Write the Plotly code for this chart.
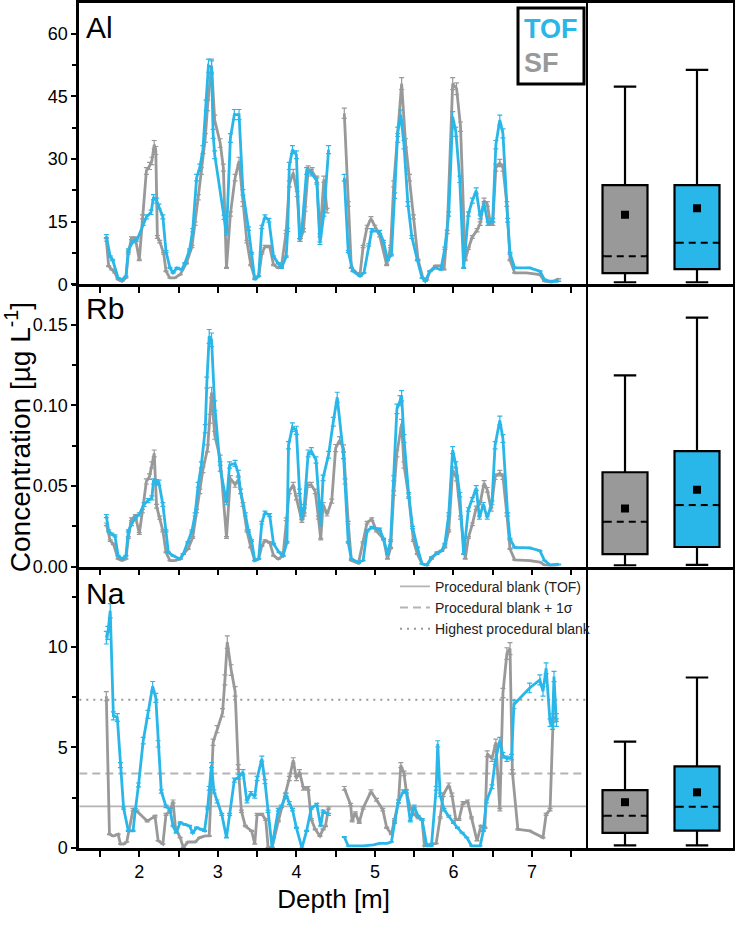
import plotly.graph_objects as go

# ---------------- data ----------------
al_sf_depth = [1.58,1.61,1.65,1.69,1.73,1.78,1.83,1.86,1.90,1.95,2.00,2.04,2.09,2.13,2.16,2.19,2.21,2.23,2.26,2.31,2.34,2.39,2.45,2.52,2.60,2.67,2.71,2.75,2.79,2.84,2.87,2.92,2.96,3.03,3.07,3.11,3.16,3.22,3.27,3.32,3.37,3.42,3.47,3.52,3.56,3.60,3.66,3.71,3.77,3.81,3.87,3.91,3.96,4.01,4.05,4.09,4.11,4.15,4.20,4.26,4.30,4.35,4.39,4.50,4.61,4.66,4.70,4.77,4.81,4.85,4.90,4.95,5.00,5.06,5.15,5.20,5.24,5.29,5.34,5.39,5.44,5.49,5.55,5.61,5.66,5.70,5.77,5.83,5.88,5.92,5.99,6.04,6.09,6.15,6.19,6.24,6.30,6.34,6.39,6.43,6.47,6.50,6.54,6.59,6.63,6.68,6.72,6.78,6.93,7.10,7.16,7.25,7.34]
al_sf = [10.6,4.3,3.5,2.7,1.1,0.7,1.5,7.4,11,11,5.8,16.1,27.1,28.3,29.5,33.4,32,11.3,10.2,7.4,3.1,1.5,1.5,2.3,5.0,9.0,14.5,20.8,27.1,35,42.8,52.3,39.3,33.8,27.9,3.9,16.8,25.5,29.5,19.2,10.2,4.6,1.5,1.9,7.4,9.0,9.0,4.6,3.9,4.3,12.5,24,26.7,21.6,10.6,12.9,18.0,27.5,27.1,25.1,11.7,25.1,17.6,None,40.9,19.2,3.9,2.7,2.3,9.0,13.7,15.7,13.7,11.7,4.6,9.0,24,35,48,33.8,25.5,16.1,5.8,1.5,1.0,3.1,4.4,4.4,3.5,12.5,48,46.8,37.7,5.8,8.6,11.3,12.9,14.5,20,19.2,14.5,14.5,27.9,29,27.9,19.2,5.8,2.7,2.7,2.3,0.7,0.5,1.3]

al_tof_depth = [1.58,1.63,1.66,1.73,1.78,1.83,1.86,1.92,1.97,2.05,2.09,2.15,2.18,2.22,2.25,2.30,2.34,2.39,2.43,2.48,2.54,2.58,2.64,2.68,2.73,2.77,2.81,2.85,2.88,2.92,2.94,2.96,3.08,3.11,3.16,3.21,3.27,3.32,3.39,3.43,3.47,3.52,3.56,3.60,3.65,3.71,3.77,3.81,3.87,3.89,3.91,3.95,4.00,4.04,4.07,4.13,4.19,4.26,4.30,4.35,4.41,4.50,4.61,4.66,4.72,4.81,4.86,4.92,4.96,5.06,5.11,5.16,5.21,5.25,5.29,5.33,5.37,5.42,5.47,5.54,5.60,5.64,5.70,5.77,5.84,5.89,5.94,5.99,6.03,6.08,6.13,6.19,6.24,6.29,6.34,6.39,6.44,6.50,6.54,6.59,6.63,6.69,6.72,6.78,6.97,7.10,7.16,7.23,7.34]
al_tof = [11.5,6.6,5.8,1.5,1.1,1.9,8.2,10.2,10.6,14.5,16.1,17.2,20.8,20.0,18.6,16.1,7.8,3.9,2.7,3.9,3.5,5.0,8.2,12.9,25.5,27.9,32.2,42.8,52.3,51.9,36,31,16,12.1,35,40.6,40.6,22,13.3,7.4,1.1,1.9,13.7,16.1,15.3,6.6,5.0,3.9,6.6,13,28.3,32.2,31,10.6,12.9,27.1,26.7,24.7,9.8,16.8,32.2,None,25.5,7.8,3.1,1.9,2.7,9.4,12.9,12.5,10.2,5.8,7.0,21.2,36.5,40.5,33.4,19.2,11.3,5.8,1.5,0.7,3.1,3.9,3.5,8.6,16.8,40.1,36.5,25.1,3.9,16.8,20,22.4,16.1,19.2,14.5,15.3,33.4,39.3,36.1,15.3,7.4,3.9,3.9,3.1,1.1,0.7,0.7]

rb_sf_depth = [1.58,1.63,1.67,1.73,1.78,1.83,1.86,1.90,1.95,2.00,2.04,2.09,2.13,2.16,2.19,2.22,2.26,2.30,2.34,2.39,2.45,2.52,2.56,2.62,2.68,2.73,2.77,2.81,2.87,2.90,2.92,2.96,3.03,3.11,3.16,3.22,3.26,3.32,3.37,3.42,3.47,3.52,3.56,3.60,3.66,3.71,3.77,3.83,3.87,3.91,3.96,4.00,4.07,4.10,4.14,4.19,4.24,4.28,4.31,4.34,4.39,4.45,4.50,4.55,4.60,4.66,4.70,4.79,4.85,4.90,4.96,5.02,5.11,5.16,5.20,5.24,5.28,5.34,5.37,5.43,5.49,5.54,5.60,5.66,5.72,5.79,5.85,5.89,5.94,5.99,6.04,6.09,6.15,6.19,6.24,6.29,6.34,6.39,6.43,6.48,6.53,6.59,6.63,6.68,6.72,6.78,6.97,7.10,7.16,7.25,7.34]
rb_sf = [.0262,.016,.014,.0047,.0037,.0047,.018,.0293,.0313,.0205,.0344,.0528,.0558,.063,.0702,.0374,.0303,.0221,.0088,.0037,.0037,.0047,.0078,.0109,.018,.0344,.0466,.06,.0733,.0917,.108,.0814,.0671,.018,.0548,.0507,.0538,.0385,.0221,.0119,.0037,.0047,.0129,.016,.015,.0067,.0047,.0067,.0293,.0466,.0507,.0426,.0282,.0323,.0507,.0507,.0466,.0303,.017,.0385,.0323,.0406,.0735,.0783,.0733,.0272,.0037,.002,.015,.0272,.0293,.0221,.017,.0047,.0115,.0456,.0702,.0886,.063,.0436,.016,.0078,.0017,.001,.0047,.0088,.0098,.0119,.0221,.06,.0548,.0303,.0047,.018,.0262,.0364,.0395,.0518,.0476,.0354,.0558,.0579,.0558,.0323,.0109,.0041,.0037,.0027,.001,.0005,.001]

rb_tof_depth = [1.58,1.61,1.65,1.69,1.73,1.78,1.83,1.86,1.90,1.95,2.00,2.06,2.11,2.16,2.18,2.22,2.25,2.30,2.34,2.37,2.43,2.52,2.56,2.62,2.67,2.71,2.75,2.79,2.84,2.86,2.89,2.92,2.96,3.03,3.11,3.15,3.22,3.26,3.29,3.35,3.39,3.43,3.47,3.52,3.56,3.60,3.66,3.71,3.78,3.83,3.88,3.90,3.95,4.00,4.04,4.07,4.10,4.15,4.19,4.25,4.31,4.34,4.41,4.47,4.52,4.60,4.62,4.66,4.70,4.79,4.85,4.90,4.96,5.06,5.11,5.16,5.20,5.24,5.28,5.32,5.34,5.37,5.43,5.48,5.54,5.60,5.66,5.72,5.79,5.85,5.89,5.94,5.99,6.03,6.08,6.13,6.19,6.24,6.29,6.33,6.38,6.43,6.49,6.53,6.59,6.63,6.69,6.72,6.78,6.97,7.10,7.16,7.23,7.34]
rb_tof = [.0313,.0221,.0201,.019,.0067,.0047,.0067,.0221,.0262,.0303,.0323,.0385,.0409,.0426,.0528,.0524,.052,.0385,.0221,.0088,.0067,.0047,.0078,.015,.0221,.0323,.0507,.063,.0855,.1141,.1428,.1407,.0998,.061,.0395,.063,.064,.0579,.0466,.0323,.0221,.016,.0037,.0047,.0272,.0334,.0319,.0139,.0088,.0067,.015,.0753,.0865,.0845,.0466,.0303,.0374,.0702,.0716,.0661,.0262,.055,.0694,.0898,.105,.069,.0528,.015,.0047,.0027,.0037,.0221,.0242,.0231,.017,.0078,.016,.0548,.0978,.1029,.106,.0794,.0446,.0242,.0119,.0017,.0006,.0058,.0078,.0098,.0139,.0323,.0722,.063,.0446,.0078,.0354,.0415,.0487,.0303,.0385,.0303,.0395,.0753,.0906,.0794,.0323,.017,.0119,.0115,.0098,.0037,.001,.0015]

na_sf_depth = [1.58,1.62,1.67,1.73,1.76,1.80,1.84,1.92,1.97,2.10,2.20,2.24,2.30,2.34,2.39,2.43,2.46,2.52,2.56,2.62,2.71,2.77,2.84,2.89,2.94,2.99,3.06,3.09,3.12,3.17,3.22,3.26,3.30,3.35,3.43,3.47,3.50,3.56,3.61,3.64,3.69,3.77,3.86,3.91,3.96,4.00,4.04,4.09,4.15,4.19,4.24,4.30,4.34,4.37,4.41,4.50,4.61,4.69,4.71,4.75,4.80,4.85,4.95,5.02,5.10,5.15,5.21,5.25,5.30,5.33,5.37,5.40,5.45,5.50,5.55,5.60,5.63,5.70,5.78,5.83,5.87,5.94,5.98,6.03,6.07,6.12,6.18,6.23,6.30,6.35,6.40,6.43,6.49,6.54,6.59,6.63,6.68,6.72,6.75,6.82,6.97,7.14,7.18,7.23,7.27,7.31]
na_sf = [7.55,0.69,0.6,0.69,0.2,0.2,0.3,1.91,1.83,1.34,1.58,0.36,0.2,1.67,1.83,2.32,1.01,0.52,0.03,0.3,0.3,0.52,0.6,0.6,5.26,5.91,6.73,8.36,10.24,8.85,7.79,4.03,1.83,1.09,0.85,0.2,1.67,1.67,1.42,0.03,0.03,1.34,2.65,3.46,4.36,3.46,3.79,2.97,2.97,1.42,0.93,0.6,0.93,1.1,1.99,None,2.97,2.16,1.34,1.75,1.26,1.99,2.81,2.40,1.91,1.01,0.69,1.42,2.32,4.12,3.71,2.81,1.99,1.67,1.5,1.42,0.11,0.2,0.23,1.5,2.65,3.14,2.65,1.42,1.42,2.24,2.32,1.5,0.36,1.09,1.01,4.69,4.44,5.26,1.91,7.71,9.67,9.92,3.79,0.93,0.85,0.52,1.67,1.91,6.49,6.49]

na_tof_depth = [1.58,1.60,1.63,1.67,1.72,1.76,1.80,1.86,1.92,1.95,1.99,2.05,2.11,2.17,2.21,2.24,2.28,2.34,2.39,2.43,2.47,2.52,2.58,2.64,2.68,2.73,2.79,2.83,2.87,2.89,2.92,2.95,2.99,3.05,3.11,3.15,3.21,3.27,3.32,3.37,3.42,3.47,3.50,3.56,3.60,3.64,3.69,3.71,3.77,3.81,3.87,3.91,3.95,4.00,4.07,4.13,4.19,4.26,4.31,4.34,4.41,4.50,4.61,4.66,4.75,4.85,4.98,5.06,5.15,5.21,5.25,5.30,5.36,5.40,5.45,5.50,5.55,5.60,5.66,5.72,5.78,5.80,5.83,5.88,5.94,6.00,6.05,6.11,6.17,6.23,6.34,6.38,6.42,6.49,6.53,6.59,6.63,6.68,6.74,6.77,6.97,7.10,7.14,7.18,7.23,7.26,7.28,7.31]
na_tof = [10.46,10.7,11.8,6.57,6.49,4.12,1.99,0.85,0.85,1.91,3.14,5.34,6.65,8.04,7.47,5.18,2.81,2.07,1.91,1.09,0.76,1.26,1.17,1.09,0.76,1.01,0.93,0.85,1.99,2.97,4.12,2.81,2.32,1.67,0.52,1.67,3.38,3.54,3.79,2.32,2.73,2.56,3.46,4.44,3.30,1.83,0.03,0.52,1.91,2.07,2.65,2.24,1.91,1.01,0.0,0.85,1.99,2.16,1.09,1.83,1.67,None,0.55,0.11,0.11,0.11,0.16,0.23,0.23,0.3,1.26,2.32,2.81,2.81,1.34,2.07,1.58,1.42,0.11,0.11,2.97,5.18,2.65,1.91,1.58,1.26,1.01,0.76,0.52,0.11,0.11,0.85,2.32,3.05,4.28,5.34,4.61,4.44,4.52,7.14,7.96,8.36,7.79,8.94,6.24,6.08,8.53,6.24]

# procedural blanks for Na
na_blank_names = ["Procedural blank (TOF)", "Procedural blank + 1σ", "Highest procedural blank"]
na_blank_values = [2.07, 3.71, 7.38]

# box statistics: [SF, TOF]
box_names = ["SF", "TOF"]
al_box = dict(q1=[2.67, 3.6], median=[6.7, 9.9], q3=[23.7, 23.7], lo=[0.47, 0.47], hi=[47.3, 51.3], mean=[16.6, 18.2])
rb_box = dict(q1=[0.0077, 0.0121], median=[0.0277, 0.0381], q3=[0.0585, 0.0716], lo=[0.0007, 0.001], hi=[0.1186, 0.1544], mean=[0.036, 0.0476])
na_box = dict(q1=[0.75, 0.87], median=[1.6, 2.05], q3=[2.88, 4.06], lo=[0.13, 0.13], hi=[5.29, 8.48], mean=[2.28, 2.77])

panel_labels = ["Al", "Rb", "Na"]
y_ranges = [[0, 67.25], [0, 0.1752], [0, 14.0]]
y_dticks = [15, 0.05, 5]
x_range = [1.236, 7.713]

for a, b in [(al_sf_depth, al_sf), (al_tof_depth, al_tof), (rb_sf_depth, rb_sf), (rb_tof_depth, rb_tof), (na_sf_depth, na_sf), (na_tof_depth, na_tof)]:
    assert len(a) == len(b), (len(a), len(b))

# ---------------- style ----------------
BLUE = "#29b6e9"
GRAY = "#999999"
FONT = "Arial, 'Liberation Sans', sans-serif"
W, H = 737, 925

X0, X1, XB = 79.3 / W, 588 / W, 733 / W
def ydom(top, bot):
    return [1 - bot / H, 1 - top / H]
Y_DOMS = [ydom(3.3, 287.3), ydom(287.3, 572.7), ydom(572.7, 857.3)]

fig = go.Figure()

series = [
    (al_sf_depth, al_sf, al_tof_depth, al_tof),
    (rb_sf_depth, rb_sf, rb_tof_depth, rb_tof),
    (na_sf_depth, na_sf, na_tof_depth, na_tof),
]
boxes = [al_box, rb_box, na_box]

for i, (sd, sv, td, tv) in enumerate(series):
    xa = "x" if i == 0 else f"x{i+1}"
    ya = "y" if i == 0 else f"y{i+1}"
    if i == 2:
        styles = [dict(color="#b4b4b4", width=1.6), dict(color="#b4b4b4", width=2, dash="8px,5px"), dict(color="#999999", width=2, dash="2px,5px")]
        for nm, val, st in zip(na_blank_names, na_blank_values, styles):
            fig.add_trace(go.Scatter(x=x_range, y=[val, val], mode="lines", line=st, name=nm,
                                     xaxis=xa, yaxis=ya, showlegend=True, hoverinfo="skip"))
    for d, v, col in [(sd, sv, GRAY), (td, tv, BLUE)]:
        fig.add_trace(go.Scatter(
            x=d, y=v, mode="lines", line=dict(color=col, width=2.8),
            error_y=dict(type="percent", value=3, color=col, thickness=1.2, width=2.5),
            connectgaps=False, showlegend=False, xaxis=xa, yaxis=ya))

# box panels
centers = [1, 2]
bw = 0.625
for i, st in enumerate(boxes):
    xa = f"x{i+4}"
    ya = f"y{i+4}"
    for j, (c, fc) in enumerate(zip(centers, [GRAY, BLUE])):
        fig.add_trace(go.Box(
            x=[c], q1=[st["q1"][j]], median=[st["median"][j]], q3=[st["q3"][j]],
            lowerfence=[st["lo"][j]], upperfence=[st["hi"][j]],
            fillcolor=fc, line=dict(color="black", width=2.2), width=bw, whiskerwidth=0.5,
            boxpoints=False, showlegend=False, name=box_names[j], xaxis=xa, yaxis=ya))
        hw = bw / 2 * 0.9
        fig.add_trace(go.Scatter(x=[c - hw, c + hw], y=[st["median"][j]] * 2, mode="lines",
                                 line=dict(color=fc, width=3.5), showlegend=False, xaxis=xa, yaxis=ya, hoverinfo="skip"))
        fig.add_trace(go.Scatter(x=[c - hw, c + hw], y=[st["median"][j]] * 2, mode="lines",
                                 line=dict(color="black", width=2, dash="7px,5px"), showlegend=False, xaxis=xa, yaxis=ya, hoverinfo="skip"))
        fig.add_trace(go.Scatter(x=[c], y=[st["mean"][j]], mode="markers",
                                 marker=dict(symbol="square", size=8, color="black"), showlegend=False, xaxis=xa, yaxis=ya))

layout = dict(
    width=W, height=H, margin=dict(l=0, r=0, t=0, b=0),
    paper_bgcolor="white", plot_bgcolor="white",
    font=dict(family=FONT, color="black", size=18),
    showlegend=True,
    legend=dict(x=395 / W, y=1 - 577 / H, xanchor="left", yanchor="top", bgcolor="rgba(0,0,0,0)",
                font=dict(size=14, family=FONT, color="#222"), itemwidth=30, tracegroupgap=0),
)

for i in range(3):
    xk = "xaxis" if i == 0 else f"xaxis{i+1}"
    yk = "yaxis" if i == 0 else f"yaxis{i+1}"
    ya_anchor = "y" if i == 0 else f"y{i+1}"
    xa_anchor = "x" if i == 0 else f"x{i+1}"
    layout[xk] = dict(domain=[X0, X1], range=x_range, anchor=ya_anchor,
                      showline=True, linecolor="black", linewidth=2.5, mirror=(i == 0),
                      ticks="outside", ticklen=6, tickwidth=2, tickcolor="black", dtick=1, tick0=0,
                      minor=dict(ticks="outside", ticklen=6, tickwidth=2, dtick=0.5, tickcolor="black"),
                      showticklabels=(i == 2), showgrid=False, zeroline=False,
                      tickfont=dict(size=18))
    if i == 2:
        layout[xk]["title"] = dict(text="Depth [m]", font=dict(size=26), standoff=9)
    layout[yk] = dict(domain=Y_DOMS[i], range=y_ranges[i], anchor=xa_anchor,
                      showline=True, linecolor="black", linewidth=2.8, mirror=False,
                      ticks="outside", ticklen=5, tickwidth=2, tickcolor="black",
                      dtick=y_dticks[i], tick0=0,
                      minor=dict(ticks="outside", ticklen=4, tickwidth=1.5, dtick=y_dticks[i] / 2, tickcolor="black"),
                      showgrid=False, zeroline=False, tickfont=dict(size=18))
    if i == 1:
        layout[yk]["tickformat"] = ".2f"
    # box panel axes
    xbk = f"xaxis{i+4}"
    ybk = f"yaxis{i+4}"
    layout[xbk] = dict(domain=[X1, XB], range=[0.486, 2.5], anchor=f"y{i+4}",
                       showline=True, linecolor="black", linewidth=2.5, mirror=(i == 0),
                       showticklabels=False, ticks="", showgrid=False, zeroline=False)
    layout[ybk] = dict(domain=Y_DOMS[i], range=y_ranges[i], anchor=f"x{i+4}",
                       showline=True, linecolor="black", linewidth=2.2, mirror=True,
                       showticklabels=False, ticks="", showgrid=False, zeroline=False)

fig.update_layout(**layout)

# panel labels
for lbl, top in zip(panel_labels, [3.3, 287.3, 575.5]):
    fig.add_annotation(text=lbl, xref="paper", yref="paper", x=84 / W, y=1 - (top + 6) / H,
                       xanchor="left", yanchor="top", showarrow=False, font=dict(size=30, family=FONT))

# y title
fig.add_annotation(text="Concentration [µg L<sup>-1</sup>]", xref="paper", yref="paper",
                   x=18 / W, y=1 - 442 / H, textangle=-90, showarrow=False,
                   font=dict(size=28, family=FONT), xanchor="center", yanchor="middle")

# TOF / SF legend box
fig.add_shape(type="rect", xref="paper", yref="paper", x0=518 / W, x1=584 / W, y0=1 - 85 / H, y1=1 - 8 / H,
              line=dict(color="black", width=3), fillcolor="white", layer="above")
fig.add_annotation(text="<b>TOF</b>", xref="paper", yref="paper", x=551 / W, y=1 - 29 / H,
                   xanchor="center", yanchor="middle",
                   showarrow=False, font=dict(size=27, color=BLUE, family=FONT))
fig.add_annotation(text="<b>SF</b>", xref="paper", yref="paper", x=541 / W, y=1 - 64 / H,
                   xanchor="center", yanchor="middle",
                   showarrow=False, font=dict(size=27, color=GRAY, family=FONT))

fig.write_html("out.html")
